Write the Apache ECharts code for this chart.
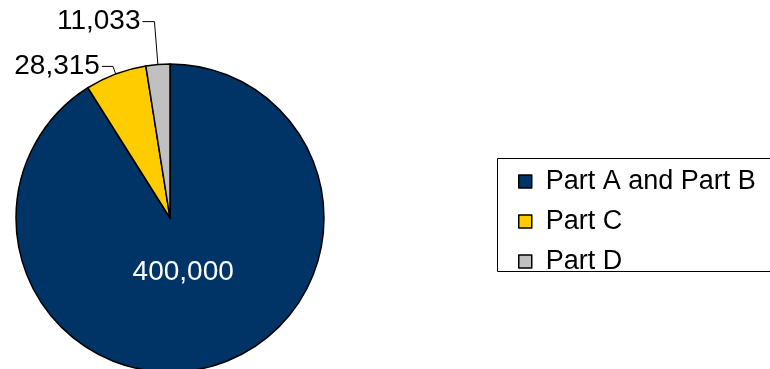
<!DOCTYPE html>
<html>
<head>
<meta charset="utf-8">
<script src="https://cdn.jsdelivr.net/npm/echarts@6/dist/echarts.min.js"></script>
<style>html,body{margin:0;padding:0;background:#fff;}#c{width:770px;height:369px;}</style>
</head>
<body>
<div id="c"></div>
<script>
const categories = ['Part A and Part B', 'Part C', 'Part D'];
const values = [400000, 28315, 11033];
const colors = ['#003366', '#FFCC00', '#C0C0C0'];

const fmt = v => v.toLocaleString('en-US');
const FONT = 'Liberation Sans, Arial, sans-serif';

const chart = echarts.init(document.getElementById('c'), null, {renderer: 'canvas'});
const data = categories.map((name, i) => {
  const item = {name, value: values[i], itemStyle: {color: colors[i]}};
  if (i === 0) {
    item.label = {position: 'inside', color: '#fff'};
  } else if (i === 1) {
    item.label = {position: 'outside', color: '#000'};
    item.labelLine = {length: 8, length2: 11};
  } else {
    item.label = {position: 'outside', color: '#000'};
    item.labelLine = {length: 43, length2: 12};
  }
  return item;
});

chart.setOption({
  animation: false,
  graphic: [{
    type: 'rect',
    shape: {x: 497.5, y: 158.5, width: 300, height: 113},
    style: {fill: 'none', stroke: '#000', lineWidth: 1},
    z: 0
  }],
  legend: {
    orient: 'vertical',
    left: 497,
    top: 158,
    padding: [10, 40, 0, 21],
    itemWidth: 13,
    itemHeight: 13,
    itemGap: 13,
    icon: 'rect',
    itemStyle: {borderColor: '#000', borderWidth: 1.5},
    textStyle: {fontFamily: FONT, fontSize: 27, color: '#000', lineHeight: 24, padding: [0, 0, 0, 9]},
    data: categories
  },
  series: [{
    type: 'pie',
    center: [170, 218],
    radius: 154,
    startAngle: 90,
    clockwise: true,
    avoidLabelOverlap: false,
    itemStyle: {borderColor: '#000', borderWidth: 1.5},
    label: {
      show: true,
      fontFamily: FONT,
      fontSize: 28,
      formatter: p => fmt(p.value),
      distanceToLabelLine: 2
    },
    labelLine: {show: true, lineStyle: {color: '#000', width: 1}},
    labelLayout: function (params) {
      if (params.dataIndex === 0) {
        return {dx: -9, dy: -23};
      }
      return {};
    },
    emphasis: {disabled: true},
    data: data
  }]
});
</script>
</body>
</html>
